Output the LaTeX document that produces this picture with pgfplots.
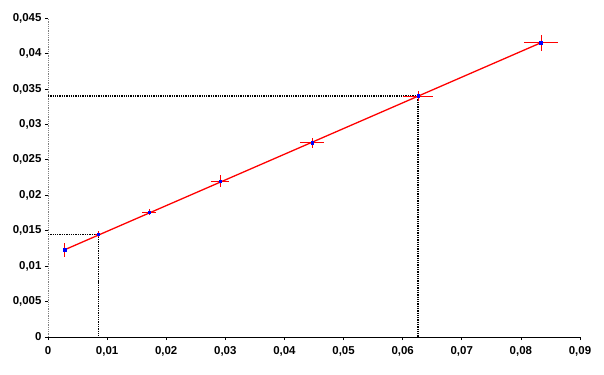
\documentclass[border=0pt]{standalone}
\usepackage{pgfplots}
\pgfplotsset{compat=1.18}
\usepackage{fontspec}
\setmainfont{Liberation Sans}
\begin{document}
\begin{tikzpicture}
\begin{axis}[
  scale only axis, width=532bp, height=319bp,
  xmin=0, xmax=0.09, ymin=0, ymax=0.045,
  axis x line=bottom, axis y line=left,
  x axis line style={-, black, line width=0.8pt},
  y axis line style={-, gray, densely dotted, line width=0.8pt},
  tick align=outside, major tick length=3bp,
  tick style={black, line width=0.6pt},
  scaled ticks=false,
  xtick={0,0.01,0.02,0.03,0.04,0.05,0.06,0.07,0.08,0.09},
  xticklabels={0,{0,01},{0,02},{0,03},{0,04},{0,05},{0,06},{0,07},{0,08},{0,09}},
  ytick={0,0.005,0.01,0.015,0.02,0.025,0.03,0.035,0.04,0.045},
  yticklabels={0,{0,005},{0,01},{0,015},{0,02},{0,025},{0,03},{0,035},{0,04},{0,045}},
  ticklabel style={font=\fontsize{11.5}{13}\selectfont\bfseries},
  xticklabel style={yshift=-3bp},
  yticklabel style={xshift=0bp},
  clip=false,
]
\addplot[black, densely dotted, line width=1.3pt] coordinates {(0,0.0145) (0.0085,0.0145) (0.0085,0)};
\addplot[black, densely dotted, line width=1.3pt] coordinates {(0,0.0340) (0.0626,0.0340) (0.0626,0)};
\addplot[only marks, mark=square*, mark size=1.3bp, blue,
  error bars/.cd, x dir=both, y dir=both, x explicit, y explicit,
  error mark=none, error bar style={red, line width=0.8pt}]
  table[x=x, y=y, x error=ex, y error=ey] {
x y ex ey
0.0028 0.0123 0.0003 0.0010
0.0085 0.0145 0.0005 0.0004
0.0171 0.0176 0.0012 0.0004
0.0291 0.0220 0.0015 0.0008
0.0447 0.0274 0.0020 0.0007
0.0626 0.0340 0.0025 0.0007
0.0834 0.0415 0.0029 0.0011
};
\addplot[red, line width=1.3pt] coordinates {(0.0028,0.01230) (0.0834,0.04151)};
\end{axis}
\path (-48bp,-38bp) rectangle (556bp,337bp);
\end{tikzpicture}
\end{document}
